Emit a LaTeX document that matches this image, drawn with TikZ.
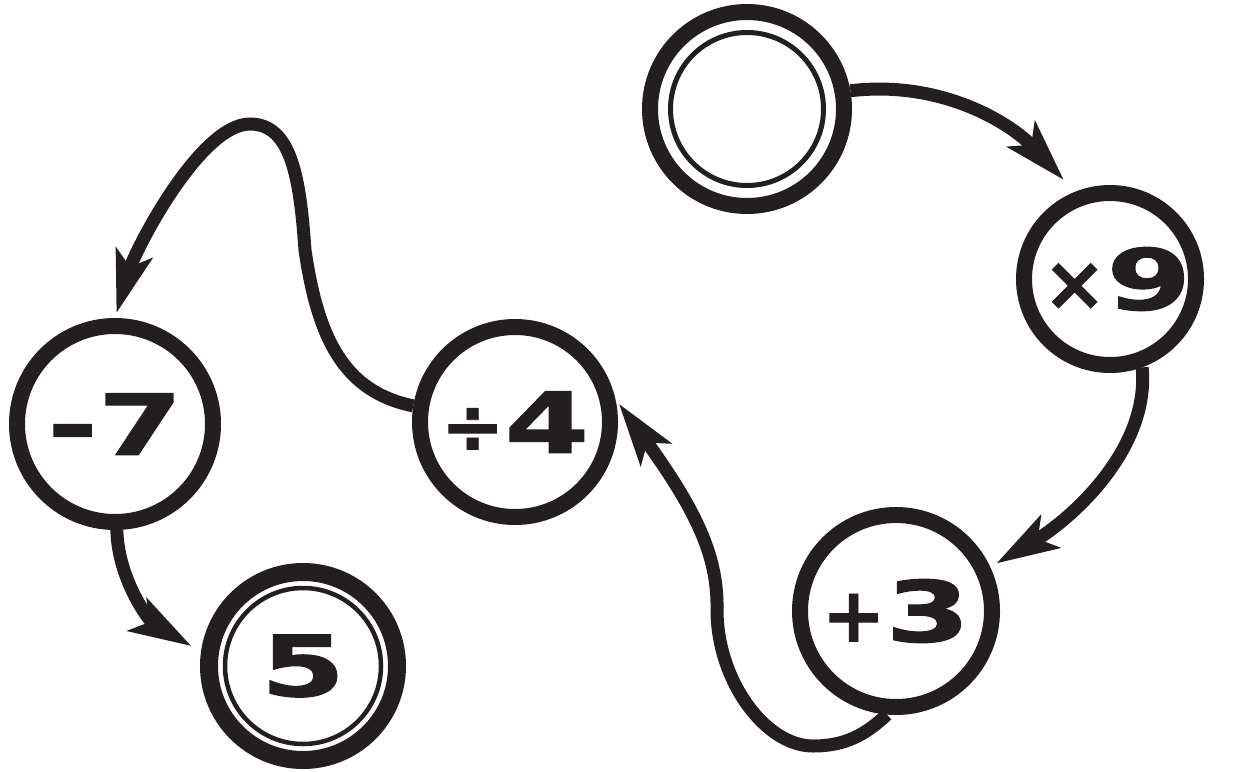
\documentclass[tikz,border=0pt]{standalone}
\usepackage{fontspec}
\usetikzlibrary{arrows.meta}
\newfontfamily\digitfont{DejaVu Sans}[FakeStretch=1.45, BoldFeatures={FakeBold=1.5}]
\newfontfamily\opfont{DejaVu Sans}[BoldFeatures={FakeBold=1}]
\definecolor{ink}{HTML}{231F20}
\newcommand{\dg}[1]{{\digitfont\bfseries\fontsize{42pt}{42pt}\selectfont #1}}
\newcommand{\op}[1]{{\opfont\bfseries\fontsize{38pt}{38pt}\selectfont #1}}
\begin{document}
\begin{tikzpicture}[x=0.5pt, y=-0.5pt,
  ring/.style={circle, draw=ink, line width=8pt, inner sep=0pt, text=ink},
  thinring/.style={circle, draw=ink, line width=2.5pt, inner sep=0pt},
  arr/.style={draw=ink, line width=6.5pt, -{Stealth[length=31pt, width=18.5pt, inset=7pt]}}]
\useasboundingbox (0,0) rectangle (1235,771);

\node[ring, minimum size=97pt] (start) at (747,109) {};
\node[thinring, minimum size=76.5pt] (startin) at (start.center) {};
\node[ring, minimum size=86pt] (x9) at (1110,279) {\makebox[0pt]{\hspace{7pt}\op{×}\dg{9}}};
\node[ring, minimum size=96pt] (p3) at (896,611) {\makebox[0pt]{\op{+}\dg{3}}};
\node[ring, minimum size=95pt] (d4) at (515,422) {\makebox[0pt]{\op{÷}\dg{4}}};
\node[ring, minimum size=98pt] (m7) at (115,424) {\makebox[0pt]{\dg{-7}}};
\node[ring, line width=9pt, minimum size=94pt] (five) at (303,666) {\makebox[0pt]{\dg{5}}};
\node[thinring, line width=2.25pt, minimum size=78pt] (fivein) at (five.center) {};

% start -> x9
\draw[arr, shorten >=8pt] (start.10) .. controls (940,80) and (1010,122) .. (x9.112);
% x9 -> +3
\draw[arr, shorten >=3.5pt] (x9.-70) .. controls (1150,450) and (1070,520) .. (p3.25);
% +3 -> /4
\draw[arr, shorten >=3pt] (p3.-95) .. controls (865,735) and (845,746) .. (813,746)
   .. controls (765,746) and (717,680) .. (717,610)
   .. controls (718,560) and (700,515) .. (d4.13);
% /4 -> -7
\draw[arr, shorten >=2.5pt] (d4.171) .. controls (345,392) and (318,340) .. (305,250)
   .. controls (300,180) and (292,124) .. (250,124)
   .. controls (200,124) and (135,250) .. (m7.90);
% -7 -> 5
\draw[arr, shorten >=5.5pt] (m7.-89) .. controls (118,580) and (150,622) .. (five.172);
\end{tikzpicture}
\end{document}
